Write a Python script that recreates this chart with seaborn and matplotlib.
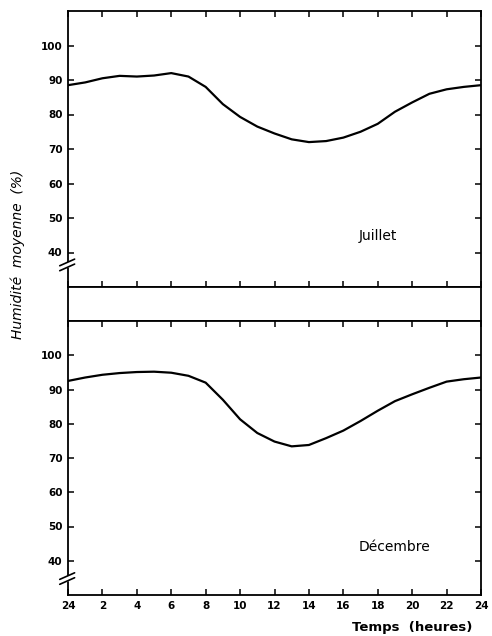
import numpy as np
import pandas as pd
import matplotlib
matplotlib.use("Agg")
import matplotlib.pyplot as plt
import seaborn as sns

# ---- data ----
hours = list(range(0, 25))
juillet = [88.5, 89.3, 90.5, 91.2, 91.0, 91.3, 92.0, 91.0, 88.0, 83.0,
           79.3, 76.5, 74.5, 72.8, 72.0, 72.3, 73.3, 75.0, 77.3, 80.8,
           83.5, 86.0, 87.3, 88.0, 88.5]
decembre = [92.5, 93.5, 94.3, 94.8, 95.1, 95.2, 94.9, 94.0, 92.0, 87.0,
            81.3, 77.3, 74.8, 73.4, 73.8, 75.8, 78.0, 80.8, 83.8, 86.6,
            88.6, 90.5, 92.3, 93.0, 93.5]
xtick_pos = list(range(0, 25, 2))
xtick_labels = ["24", "2", "4", "6", "8", "10", "12", "14", "16", "18", "20", "22", "24"]
ytick_pos = [40, 50, 60, 70, 80, 90, 100]
ytick_labels = ["40", "50", "60", "70", "80", "90", "100"]
panel_names = ["Juillet", "Décembre"]

sns.set_theme(style="white")
plt.rcParams["font.family"] = ["DejaVu Sans"]
plt.rcParams["text.color"] = "black"
plt.rcParams["axes.labelcolor"] = "black"
plt.rcParams["xtick.color"] = "black"
plt.rcParams["ytick.color"] = "black"

W, H = 492, 636
fig = plt.figure(figsize=(W / 100, H / 100), dpi=100)

def rect(x0, y0, x1, y1):
    return [x0 / W, 1 - y1 / H, (x1 - x0) / W, (y1 - y0) / H]

ax_top = fig.add_axes(rect(68, 11, 481, 287))
ax_mid = fig.add_axes(rect(68, 287, 481, 321))
ax_bot = fig.add_axes(rect(68, 321, 481, 595))

df = pd.DataFrame({"h": hours, "Juillet": juillet, "Décembre": decembre})

for ax, name in [(ax_top, "Juillet"), (ax_bot, "Décembre")]:
    sns.lineplot(data=df, x="h", y=name, ax=ax, color="black", linewidth=1.6)
    ax.set_xlim(0, 24)
    ax.set_ylim(30, 110)
    ax.set_xticks(xtick_pos)
    ax.set_yticks(ytick_pos)
    ax.set_yticklabels(ytick_labels, fontsize=7.5, fontweight="bold", color="black")
    ax.tick_params(axis="both", direction="in", length=4, width=1.1, color="black",
                   labelcolor="black", top=True, bottom=True, left=True, right=True, pad=4)
    ax.set_xlabel("")
    ax.set_ylabel("")
    for s in ax.spines.values():
        s.set_color("black")
        s.set_linewidth(1.3)
    # break marks on the left spine
    yb = 0.08 if ax is ax_top else 0.06
    ax.plot([-0.012, 0.012], [yb - 0.005, yb + 0.005], transform=ax.transAxes,
            color="white", linewidth=4, clip_on=False, zorder=5)
    for dy in (-0.009, 0.009):
        ax.plot([-0.02, 0.016], [yb + dy - 0.012, yb + dy + 0.012],
                transform=ax.transAxes, color="black", linewidth=1.2,
                clip_on=False, zorder=6)

ax_top.set_xticklabels([])
ax_bot.set_xticklabels(xtick_labels, fontsize=7.5, fontweight="bold", color="black")

ax_top.text(18.0, 44.8, panel_names[0], fontsize=10, ha="center", va="center", color="black")
ax_bot.text(19.0, 44.1, panel_names[1], fontsize=10, ha="center", va="center", color="black")

ax_mid.set_xticks([])
ax_mid.set_yticks([])
for s in ax_mid.spines.values():
    s.set_color("black")
    s.set_linewidth(1.3)

fig.text(18 / W, 1 - 254 / H, "Humidité  moyenne  (%)", rotation=90, style="italic",
         fontsize=10, ha="center", va="center", color="black")
fig.text(412 / W, 1 - 628 / H, "Temps  (heures)", fontsize=9.5, fontweight="bold",
         ha="center", va="center", color="black")

fig.savefig("out.png", dpi=100)
